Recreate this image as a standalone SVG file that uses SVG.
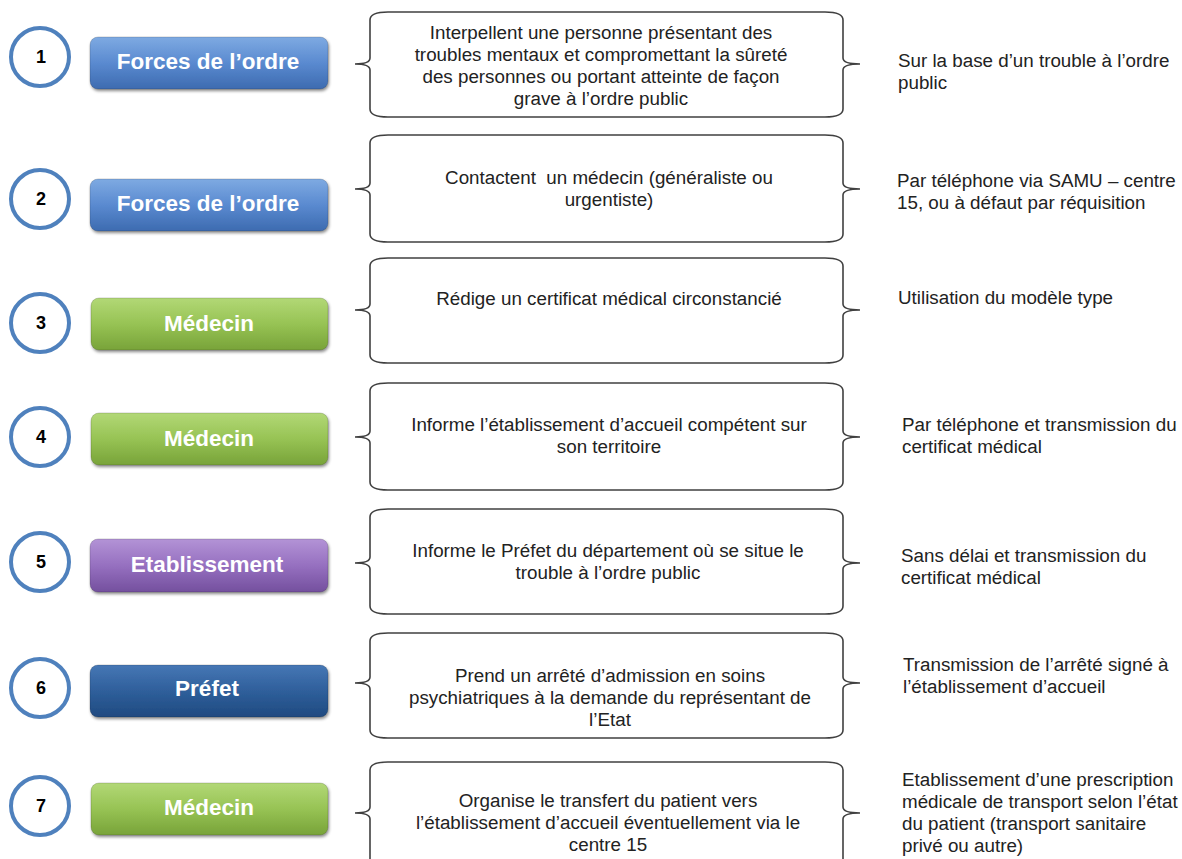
<svg xmlns="http://www.w3.org/2000/svg" width="1182" height="859" viewBox="0 0 1182 859">
<defs>
<linearGradient id="gBlue" x1="0" y1="0" x2="0" y2="1"><stop offset="0" stop-color="#7eaae2"/><stop offset="0.5" stop-color="#5a8ad0"/><stop offset="1" stop-color="#3d6bb0"/></linearGradient>
<linearGradient id="gGreen" x1="0" y1="0" x2="0" y2="1"><stop offset="0" stop-color="#b2d876"/><stop offset="0.5" stop-color="#97c354"/><stop offset="1" stop-color="#78a339"/></linearGradient>
<linearGradient id="gPurple" x1="0" y1="0" x2="0" y2="1"><stop offset="0" stop-color="#b393d6"/><stop offset="0.5" stop-color="#9670c0"/><stop offset="1" stop-color="#74509e"/></linearGradient>
<linearGradient id="gDark" x1="0" y1="0" x2="0" y2="1"><stop offset="0" stop-color="#4677b5"/><stop offset="0.5" stop-color="#2f5f9b"/><stop offset="1" stop-color="#1f4a80"/></linearGradient>
<filter id="sh" x="-10%" y="-20%" width="120%" height="150%"><feDropShadow dx="1" dy="2" stdDeviation="1.5" flood-color="#000" flood-opacity="0.45"/></filter>
</defs>
<style>
.circ{fill:#fff;stroke:#4f81bd;stroke-width:4}
.num{font-family:"Liberation Sans",Arial,sans-serif;font-weight:bold;font-size:18px;fill:#000;text-anchor:middle;dominant-baseline:central}
.btn{filter:url(#sh);stroke:rgba(0,0,0,0.15);stroke-width:1}
.btxt{font-family:"Liberation Sans",Arial,sans-serif;font-weight:bold;font-size:22.5px;fill:#fff;text-anchor:middle;dominant-baseline:central}
.brace{fill:none;stroke:#404040;stroke-width:1.6}
.mtxt{font-family:"Liberation Sans",Arial,sans-serif;font-size:18.8px;fill:#222;text-anchor:middle;dominant-baseline:central}
.rtxt{font-family:"Liberation Sans",Arial,sans-serif;font-size:18.8px;fill:#222;dominant-baseline:central}
</style>
<rect width="1182" height="859" fill="#fff"/>

<g id="step1">
<circle class="circ" cx="40" cy="57" r="29"/><text class="num" x="41" y="57">1</text>
<rect class="btn" x="90" y="37" width="238" height="52" rx="8" fill="url(#gBlue)"/><text class="btxt" x="208" y="61">Forces de l’ordre</text>
</g>
<g id="step2">
<circle class="circ" cx="40" cy="199" r="29"/><text class="num" x="41" y="199">2</text>
<rect class="btn" x="90" y="179" width="238" height="52" rx="8" fill="url(#gBlue)"/><text class="btxt" x="208" y="203">Forces de l’ordre</text>
</g>
<g id="step3">
<circle class="circ" cx="40" cy="323" r="29"/><text class="num" x="41" y="323">3</text>
<rect class="btn" x="91" y="298" width="237" height="52" rx="8" fill="url(#gGreen)"/><text class="btxt" x="209" y="323">Médecin</text>
</g>
<g id="step4">
<circle class="circ" cx="40" cy="437" r="29"/><text class="num" x="41" y="437">4</text>
<rect class="btn" x="91" y="413" width="237" height="52" rx="8" fill="url(#gGreen)"/><text class="btxt" x="209" y="438">Médecin</text>
</g>
<g id="step5">
<circle class="circ" cx="40" cy="562" r="29"/><text class="num" x="41" y="562">5</text>
<rect class="btn" x="90" y="539" width="238" height="53" rx="8" fill="url(#gPurple)"/><text class="btxt" x="207" y="564">Etablissement</text>
</g>
<g id="step6">
<circle class="circ" cx="40" cy="688" r="29"/><text class="num" x="41" y="688">6</text>
<rect class="btn" x="90" y="665" width="238" height="52" rx="8" fill="url(#gDark)"/><text class="btxt" x="207" y="688">Préfet</text>
</g>
<g id="step7">
<circle class="circ" cx="40" cy="806" r="29"/><text class="num" x="41" y="806">7</text>
<rect class="btn" x="91" y="783" width="237" height="52" rx="8" fill="url(#gGreen)"/><text class="btxt" x="209" y="807">Médecin</text>
</g>

<g id="box1">
<path class="brace" d="M388,12 Q370,12 370,20 L370,58 Q370,64 355,64 Q370,64 370,70 L370,109 Q370,117 388,117 L825,117 Q843,117 843,109 L843,70 Q843,64 860,64 Q843,64 843,58 L843,20 Q843,12 825,12 Z"/>
<text class="mtxt" x="601" y="32">Interpellent une personne présentant des</text>
<text class="mtxt" x="601" y="54">troubles mentaux et compromettant la sûreté</text>
<text class="mtxt" x="601" y="76">des personnes ou portant atteinte de façon</text>
<text class="mtxt" x="601" y="98">grave à l’ordre public</text>
<text class="rtxt" x="898" y="60">Sur la base d’un trouble à l’ordre</text>
<text class="rtxt" x="898" y="82">public</text>
</g>
<g id="box2">
<path class="brace" d="M388,135 Q370,135 370,143 L370,183 Q370,189 355,189 Q370,189 370,195 L370,234 Q370,242 388,242 L825,242 Q843,242 843,234 L843,195 Q843,189 860,189 Q843,189 843,183 L843,143 Q843,135 825,135 Z"/>
<text class="mtxt" x="609" y="177" xml:space="preserve">Contactent  un médecin (généraliste ou</text>
<text class="mtxt" x="609" y="199">urgentiste)</text>
<text class="rtxt" x="897" y="180">Par téléphone via SAMU – centre</text>
<text class="rtxt" x="897" y="202">15, ou à défaut par réquisition</text>
</g>
<g id="box3">
<path class="brace" d="M388,258 Q370,258 370,266 L370,304 Q370,310 355,310 Q370,310 370,316 L370,355 Q370,363 388,363 L825,363 Q843,363 843,355 L843,316 Q843,310 860,310 Q843,310 843,304 L843,266 Q843,258 825,258 Z"/>
<text class="mtxt" x="609" y="298">Rédige un certificat médical circonstancié</text>
<text class="rtxt" x="898" y="297">Utilisation du modèle type</text>
</g>
<g id="box4">
<path class="brace" d="M388,383 Q370,383 370,391 L370,431 Q370,437 355,437 Q370,437 370,443 L370,482 Q370,490 388,490 L825,490 Q843,490 843,482 L843,443 Q843,437 860,437 Q843,437 843,431 L843,391 Q843,383 825,383 Z"/>
<text class="mtxt" x="609" y="424">Informe l’établissement d’accueil compétent sur</text>
<text class="mtxt" x="609" y="446">son territoire</text>
<text class="rtxt" x="902" y="424">Par téléphone et transmission du</text>
<text class="rtxt" x="902" y="446">certificat médical</text>
</g>
<g id="box5">
<path class="brace" d="M388,509 Q370,509 370,517 L370,557 Q370,563 355,563 Q370,563 370,569 L370,606 Q370,614 388,614 L825,614 Q843,614 843,606 L843,569 Q843,563 860,563 Q843,563 843,557 L843,517 Q843,509 825,509 Z"/>
<text class="mtxt" x="608" y="550">Informe le Préfet du département où se situe le</text>
<text class="mtxt" x="608" y="572">trouble à l’ordre public</text>
<text class="rtxt" x="901" y="555">Sans délai et transmission du</text>
<text class="rtxt" x="901" y="577">certificat médical</text>
</g>
<g id="box6">
<path class="brace" d="M388,633 Q370,633 370,641 L370,677 Q370,683 355,683 Q370,683 370,689 L370,730 Q370,738 388,738 L825,738 Q843,738 843,730 L843,689 Q843,683 860,683 Q843,683 843,677 L843,641 Q843,633 825,633 Z"/>
<text class="mtxt" x="610" y="675">Prend un arrêté d’admission en soins</text>
<text class="mtxt" x="610" y="697">psychiatriques à la demande du représentant de</text>
<text class="mtxt" x="610" y="719">l’Etat</text>
<text class="rtxt" x="903" y="664">Transmission de l’arrêté signé à</text>
<text class="rtxt" x="903" y="686">l’établissement d’accueil</text>
</g>
<g id="box7">
<path class="brace" d="M388,762 Q370,762 370,770 L370,807 Q370,813 355,813 Q370,813 370,819 L370,860 Q370,868 388,868 L825,868 Q843,868 843,860 L843,819 Q843,813 860,813 Q843,813 843,807 L843,770 Q843,762 825,762 Z"/>
<text class="mtxt" x="608" y="800">Organise le transfert du patient vers</text>
<text class="mtxt" x="608" y="822">l’établissement d’accueil éventuellement via le</text>
<text class="mtxt" x="608" y="844">centre 15</text>
<text class="rtxt" x="902" y="779">Etablissement d’une prescription</text>
<text class="rtxt" x="902" y="801">médicale de transport selon l’état</text>
<text class="rtxt" x="902" y="823">du patient (transport sanitaire</text>
<text class="rtxt" x="902" y="845">privé ou autre)</text>
</g>
<g id="connectors"></g>
</svg>
